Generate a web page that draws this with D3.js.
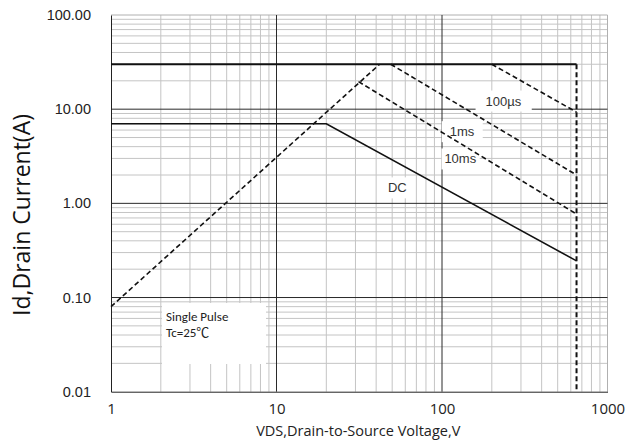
<!DOCTYPE html>
<html><head><meta charset="utf-8">
<script src="https://cdn.jsdelivr.net/npm/d3@7"></script>
<style>body{margin:0;background:#fff}svg{display:block}</style>
</head><body>
<svg id="c" width="625" height="443"></svg>
<script>
// ---- data ----
const xTicks = [1, 10, 100, 1000];
const xTickLabels = ["1", "10", "100", "1000"];
const yTicks = [0.01, 0.1, 1, 10, 100];
const yTickLabels = ["0.01", "0.10", "1.00", "10.00", "100.00"];
const limitCurrent = [[1, 30], [650, 30]];                 // Id max pulsed
const limitVoltage = [[650, 30], [650, 0.01]];             // BVdss
const rdsLimit = [[1, 0.08], [42, 30]];                     // Rds(on) limit
const pulse100us = [[200, 30], [650, 9.3]];
const pulse1ms = [[49, 30], [650, 2.0]];
const pulse10ms = [[31.3, 19.6], [650, 0.77]];
const dcLine = [[1, 7], [20, 7], [650, 0.245]];
const labels = [
  {text: "100µs", v: 235, i: 12.2, pad: 10},
  {text: "1ms", v: 132, i: 5.77, pad: 8},
  {text: "10ms", v: 129, i: 2.96, pad: 3},
  {text: "DC", v: 53.7, i: 1.46, pad: 4}
];
const noteLines = ["Single Pulse", "Tc=25℃"];

// ---- layout ----
const L = 111, R = 607.5, T = 15, B = 391.7;
const svg = d3.select("#c");
const x = d3.scaleLog().domain([1, 1000]).range([L, R]);
const y = d3.scaleLog().domain([0.01, 100]).range([B, T]);

const minorX = [], minorY = [];
for (let d = 1; d < 1000; d *= 10) for (let k = 2; k <= 9; k++) minorX.push(d * k);
for (let d = 0.01; d < 99; d *= 10) for (let k = 2; k <= 9; k++) minorY.push(+(d * k).toPrecision(3));

const g = svg.append("g");
// minor grid
g.selectAll(".mx").data(minorX).enter().append("line")
  .attr("x1", d => x(d)).attr("x2", d => x(d)).attr("y1", T).attr("y2", B)
  .attr("stroke", "#c4c4c4").attr("stroke-width", 1);
g.selectAll(".my").data(minorY).enter().append("line")
  .attr("y1", d => y(d)).attr("y2", d => y(d)).attr("x1", L).attr("x2", R)
  .attr("stroke", "#c4c4c4").attr("stroke-width", 1);
// top/right border (light)
g.append("line").attr("x1", L).attr("x2", R).attr("y1", T).attr("y2", T).attr("stroke", "#b0b0b0");
g.append("line").attr("x1", R).attr("x2", R).attr("y1", T).attr("y2", B).attr("stroke", "#b0b0b0");
// major grid
g.selectAll(".Mx").data([10, 100]).enter().append("line")
  .attr("x1", d => x(d)).attr("x2", d => x(d)).attr("y1", T).attr("y2", B)
  .attr("stroke", "#2a2a2a").attr("stroke-width", 1);
g.selectAll(".My").data([0.1, 1, 10]).enter().append("line")
  .attr("y1", d => y(d)).attr("y2", d => y(d)).attr("x1", L).attr("x2", R)
  .attr("stroke", "#2a2a2a").attr("stroke-width", 1);

// axes
const xAxis = d3.axisBottom(x).tickValues(xTicks).tickFormat((d, i) => xTickLabels[i]).tickSize(0).tickPadding(12);
const yAxis = d3.axisLeft(y).tickValues(yTicks).tickFormat((d, i) => yTickLabels[i]).tickSize(0).tickPadding(20);
const gx = svg.append("g").attr("transform", `translate(0,${B})`).call(xAxis);
gx.select(".domain").attr("stroke", "#222");
gx.selectAll("text").attr("font-family", "'Open Sans', sans-serif").attr("font-size", 15).attr("fill", "#222");
const gy = svg.append("g").attr("transform", `translate(${L},0)`).call(yAxis);
gy.select(".domain").attr("stroke", "#222");
gy.selectAll("text").attr("font-family", "'Liberation Sans', Arial, sans-serif").attr("font-size", 14.5).attr("fill", "#222");

// note box
const nb = svg.append("g");
nb.append("rect").attr("x", 162).attr("y", 303).attr("width", 104).attr("height", 61).attr("fill", "#fff");
nb.selectAll("text").data(noteLines).enter().append("text")
  .attr("x", 166).attr("y", (d, i) => 321 + i * 16)
  .attr("font-family", "Carlito, 'Open Sans', 'Noto Sans CJK SC', sans-serif").attr("font-size", 13).attr("fill", "#222")
  .text(d => d);

// curve labels with white background
const lg = svg.append("g");
labels.forEach(l => {
  const t = lg.append("text").attr("x", x(l.v)).attr("y", y(l.i))
    .attr("text-anchor", "middle").attr("dominant-baseline", "central")
    .attr("font-family", "'Liberation Sans', Arial, sans-serif").attr("font-size", 13).attr("fill", "#333")
    .text(l.text);
  const bb = t.node().getBBox();
  lg.insert("rect", "text").attr("x", bb.x - l.pad).attr("y", bb.y - 3).attr("width", bb.width + 2 * l.pad).attr("height", bb.height + 6).attr("fill", "#fff");
});

// curves
const line = d3.line().x(d => x(d[0])).y(d => y(d[1]));
const cg = svg.append("g").attr("fill", "none").attr("stroke", "#111");
cg.append("path").datum(limitCurrent).attr("d", line).attr("stroke-width", 1.8);
cg.append("path").datum(dcLine).attr("d", line).attr("stroke-width", 1.6);
[rdsLimit, pulse100us, pulse1ms, pulse10ms].forEach(s =>
  cg.append("path").datum(s).attr("d", line).attr("stroke-width", 1.6).attr("stroke-dasharray", "5,3"));
cg.append("path").datum(limitVoltage).attr("d", line).attr("stroke-width", 2).attr("stroke-dasharray", "5,3");

// titles
svg.append("text").attr("x", (L + R) / 2 - 1).attr("y", 436).attr("text-anchor", "middle")
  .attr("font-family", "'Open Sans', sans-serif").attr("font-size", 14.5).attr("fill", "#222")
  .text("VDS,Drain-to-Source Voltage,V");
svg.append("text").attr("transform", "translate(30,215) rotate(-90)").attr("text-anchor", "middle")
  .attr("font-family", "'Open Sans', sans-serif").attr("font-size", 23).attr("fill", "#111")
  .text("Id,Drain Current(A)");
</script>
</body></html>
